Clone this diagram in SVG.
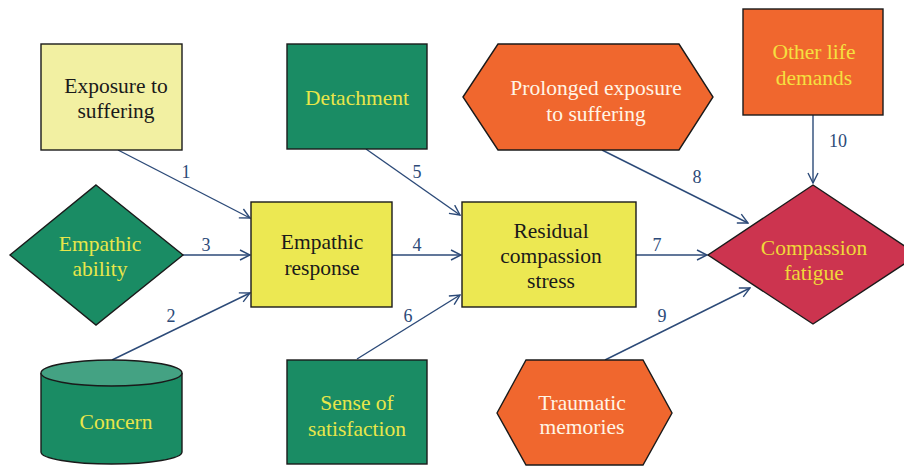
<svg xmlns="http://www.w3.org/2000/svg" width="904" height="466" viewBox="0 0 904 466">
<style>
.n{stroke:#1a1a1a;stroke-width:1.4}
.c{stroke:#2c4a78;stroke-width:1.4;fill:none;marker-end:url(#ah)}
.t{font-family:"Liberation Serif",serif;font-size:21.5px;text-anchor:middle}
.lbl{font-family:"Liberation Serif",serif;font-size:18px;fill:#2c4a78;text-anchor:middle}
.dark{fill:#1a1a1a}
.yel{fill:#e8e64a}
.cream{fill:#fff5e6}
</style>
<defs>
<marker id="ah" viewBox="0 0 12 12" refX="11" refY="6" markerWidth="12" markerHeight="12" markerUnits="userSpaceOnUse" orient="auto">
<path d="M1,1 L11,6 L1,11" fill="none" stroke="#2c4a78" stroke-width="1.4"/>
</marker>
</defs>
<rect width="904" height="466" fill="#fff"/>
<g id="connectors">
<line class="c" x1="118" y1="150" x2="250" y2="218"/>
<line class="c" x1="183" y1="255" x2="250" y2="255"/>
<line class="c" x1="112" y1="360" x2="250" y2="293"/>
<line class="c" x1="392" y1="255" x2="461" y2="255"/>
<line class="c" x1="366" y1="149" x2="460" y2="215"/>
<line class="c" x1="357" y1="359" x2="460" y2="295"/>
<line class="c" x1="636" y1="255" x2="707" y2="255"/>
<line class="c" x1="602" y1="150" x2="748" y2="223"/>
<line class="c" x1="813" y1="115" x2="813" y2="183"/>
<line class="c" x1="605" y1="360" x2="750" y2="288"/>
<text class="lbl" x="186" y="178">1</text>
<text class="lbl" x="171" y="322">2</text>
<text class="lbl" x="206" y="251">3</text>
<text class="lbl" x="417" y="251">4</text>
<text class="lbl" x="417" y="178">5</text>
<text class="lbl" x="408" y="322">6</text>
<text class="lbl" x="657" y="251">7</text>
<text class="lbl" x="697" y="183">8</text>
<text class="lbl" x="662" y="322">9</text>
<text class="lbl" x="838" y="147">10</text>
</g>
<g id="exposure">
<rect class="n" x="41" y="44" width="141" height="106" fill="#f2f0a2"/>
<text class="t dark"><tspan x="116" y="93">Exposure to</tspan><tspan x="116" y="118">suffering</tspan></text>
</g>
<g id="empathic-ability">
<polygon class="n" points="96,185 183,255 96,325 10,255" fill="#1a8c64"/>
<text class="t yel"><tspan x="100" y="251">Empathic</tspan><tspan x="100" y="276">ability</tspan></text>
</g>
<g id="concern">
<path class="n" d="M41,373 L41,452 A70.5,12 0 0 0 182,452 L182,373" fill="#1a8c64"/>
<ellipse class="n" cx="111.5" cy="373" rx="70.5" ry="13" fill="#44a283"/>
<text class="t yel" x="116" y="429">Concern</text>
</g>
<g id="empathic-response">
<rect class="n" x="251" y="202" width="141" height="105" fill="#ece852"/>
<text class="t dark"><tspan x="322" y="249">Empathic</tspan><tspan x="322" y="275">response</tspan></text>
</g>
<g id="detachment">
<rect class="n" x="287" y="44" width="140" height="105" fill="#1a8c64"/>
<text class="t yel" x="357" y="105">Detachment</text>
</g>
<g id="satisfaction">
<rect class="n" x="287" y="360" width="140" height="104" fill="#1a8c64"/>
<text class="t yel"><tspan x="357" y="410">Sense of</tspan><tspan x="357" y="436">satisfaction</tspan></text>
</g>
<g id="residual">
<rect class="n" x="462" y="202" width="174" height="105" fill="#ece852"/>
<text class="t dark"><tspan x="551" y="238">Residual</tspan><tspan x="551" y="263">compassion</tspan><tspan x="551" y="288">stress</tspan></text>
</g>
<g id="prolonged">
<polygon class="n" points="463,97 498,44 679,44 713,97 679,150 498,150" fill="#f0672e"/>
<text class="t cream"><tspan x="596" y="95">Prolonged exposure</tspan><tspan x="596" y="121">to suffering</tspan></text>
</g>
<g id="other-life">
<rect class="n" x="743" y="9" width="140" height="106" fill="#f0672e"/>
<text class="t" fill="#f5e040"><tspan x="814" y="59">Other life</tspan><tspan x="814" y="85">demands</tspan></text>
</g>
<g id="compassion-fatigue">
<polygon class="n" points="813,185 918,255 813,324 708,255" fill="#cc344f"/>
<text class="t" fill="#f0d83a"><tspan x="814" y="255">Compassion</tspan><tspan x="814" y="280">fatigue</tspan></text>
</g>
<g id="traumatic">
<polygon class="n" points="497,413 526,360 643,360 672,413 643,465 526,465" fill="#f0672e"/>
<text class="t cream"><tspan x="582" y="410">Traumatic</tspan><tspan x="582" y="434">memories</tspan></text>
</g>
</svg>
